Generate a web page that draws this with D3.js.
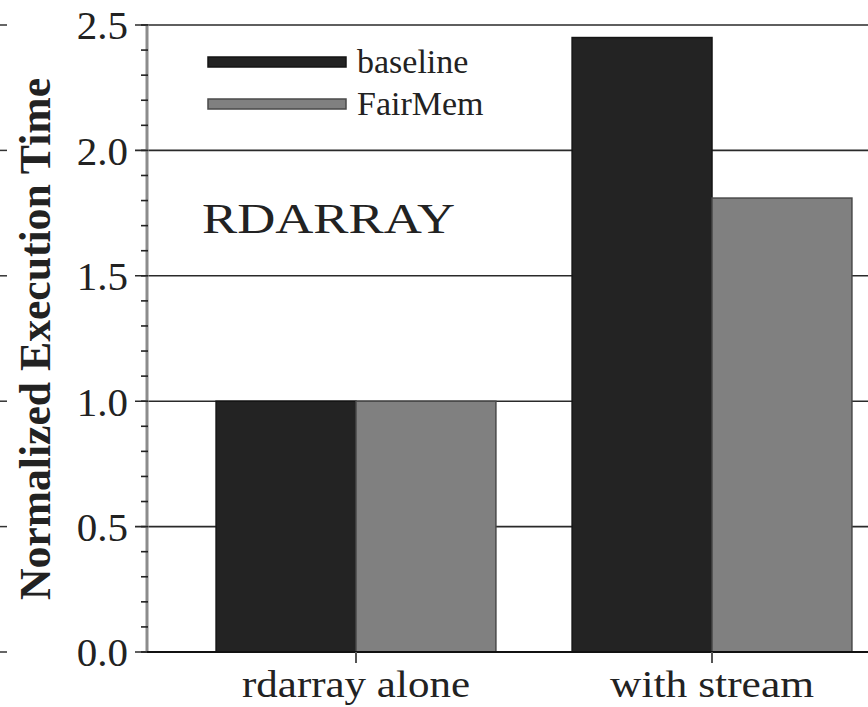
<!DOCTYPE html>
<html>
<head>
<meta charset="utf-8">
<script src="https://cdn.jsdelivr.net/npm/d3@7"></script>
<style>
  html, body { margin: 0; padding: 0; background: #fff; }
  svg { display: block; }
  text { font-family: "Liberation Serif", "Times New Roman", serif; fill: #222; }
</style>
</head>
<body>
<svg id="chart" width="868" height="707"></svg>
<script>
const categories = ["rdarray alone", "with stream"];
const seriesNames = ["baseline", "FairMem"];
const baselineValues = [1.0, 2.45];
const fairmemValues = [1.0, 1.81];
const yTicks = [0.0, 0.5, 1.0, 1.5, 2.0, 2.5];
const yMinorTicks = d3.range(0, 26).map(i => i / 10);
const yLabel = "Normalized Execution Time";
const annotation = "RDARRAY";

const colors = { baseline: "#232323", FairMem: "#808080" };
const strokes = { baseline: "#151515", FairMem: "#4a4a4a" };

const svg = d3.select("#chart");
const mLeft = 147, mTop = 25, mBottom = 652, plotRight = 921;

const y = d3.scaleLinear().domain([0, 2.5]).range([mBottom, mTop]);
const x0 = d3.scaleBand().domain(categories).range([mLeft, plotRight])
  .paddingInner(0.214).paddingOuter(0.194);
const x1 = d3.scaleBand().domain(seriesNames).range([0, x0.bandwidth()]).padding(0);

const data = categories.map((c, i) => ({
  cat: c,
  vals: [{ s: "baseline", v: baselineValues[i] }, { s: "FairMem", v: fairmemValues[i] }]
}));

// stray ticks at far left (adjacent panel remnants)
svg.append("g").selectAll("line").data(yTicks).join("line")
  .attr("x1", 0).attr("x2", 7)
  .attr("y1", d => y(d)).attr("y2", d => y(d))
  .attr("stroke", "#333").attr("stroke-width", 1.5);

// gridlines
svg.append("g").selectAll("line").data(yTicks).join("line")
  .attr("x1", mLeft - 12).attr("x2", 868)
  .attr("y1", d => y(d)).attr("y2", d => y(d))
  .attr("stroke", "#2a2a2a").attr("stroke-width", 1.6);

// bars
const groups = svg.append("g").selectAll("g").data(data).join("g")
  .attr("transform", d => `translate(${x0(d.cat)},0)`);
groups.selectAll("rect").data(d => d.vals).join("rect")
  .attr("x", d => x1(d.s))
  .attr("y", d => y(d.v))
  .attr("width", x1.bandwidth())
  .attr("height", d => y(0) - y(d.v))
  .attr("fill", d => colors[d.s])
  .attr("stroke", d => strokes[d.s])
  .attr("stroke-width", 1.5);

// y axis line (gray)
svg.append("line")
  .attr("x1", mLeft).attr("x2", mLeft).attr("y1", mTop).attr("y2", mBottom)
  .attr("stroke", "#8c8c8c").attr("stroke-width", 3);

// minor ticks
svg.append("g").selectAll("line").data(yMinorTicks).join("line")
  .attr("x1", mLeft - 6).attr("x2", mLeft + 1)
  .attr("y1", d => y(d)).attr("y2", d => y(d))
  .attr("stroke", "#222").attr("stroke-width", 1.6);

// y tick labels
svg.append("g").selectAll("text").data(yTicks).join("text")
  .attr("x", 128).attr("y", d => y(d)).attr("dy", "0.35em")
  .attr("text-anchor", "end")
  .attr("font-size", 41)
  .text(d => d.toFixed(1));

// x axis line
svg.append("line")
  .attr("x1", mLeft).attr("x2", 868).attr("y1", mBottom).attr("y2", mBottom)
  .attr("stroke", "#111").attr("stroke-width", 2);

// x ticks
svg.append("g").selectAll("line").data(categories).join("line")
  .attr("x1", d => x0(d) + x0.bandwidth() / 2).attr("x2", d => x0(d) + x0.bandwidth() / 2)
  .attr("y1", mBottom).attr("y2", mBottom + 11)
  .attr("stroke", "#555").attr("stroke-width", 2);

// x labels
const xLabelLen = { "rdarray alone": 228, "with stream": 204 };
svg.append("g").selectAll("text").data(categories).join("text")
  .attr("x", d => x0(d) + x0.bandwidth() / 2).attr("y", 697)
  .attr("text-anchor", "middle")
  .attr("font-size", 37)
  .attr("textLength", d => xLabelLen[d])
  .attr("lengthAdjust", "spacingAndGlyphs")
  .text(d => d);

// y label
svg.append("text")
  .attr("transform", "translate(50,339) rotate(-90)")
  .attr("text-anchor", "middle")
  .attr("font-size", 44)
  .attr("font-weight", "bold")
  .attr("textLength", 522)
  .attr("lengthAdjust", "spacingAndGlyphs")
  .text(yLabel);

// annotation
svg.append("text")
  .attr("x", 202).attr("y", 233)
  .attr("font-size", 42)
  .attr("textLength", 253)
  .attr("lengthAdjust", "spacingAndGlyphs")
  .text(annotation);

// legend
const legend = svg.append("g");
seriesNames.forEach((s, i) => {
  const cy = 62 + i * 42;
  legend.append("rect")
    .attr("x", 208).attr("y", cy - 5).attr("width", 138).attr("height", 10)
    .attr("fill", colors[s]).attr("stroke", strokes[s]).attr("stroke-width", 1.5);
  legend.append("text")
    .attr("x", 357).attr("y", cy + 11)
    .attr("font-size", 34)
    .text(s);
});
</script>
</body>
</html>
